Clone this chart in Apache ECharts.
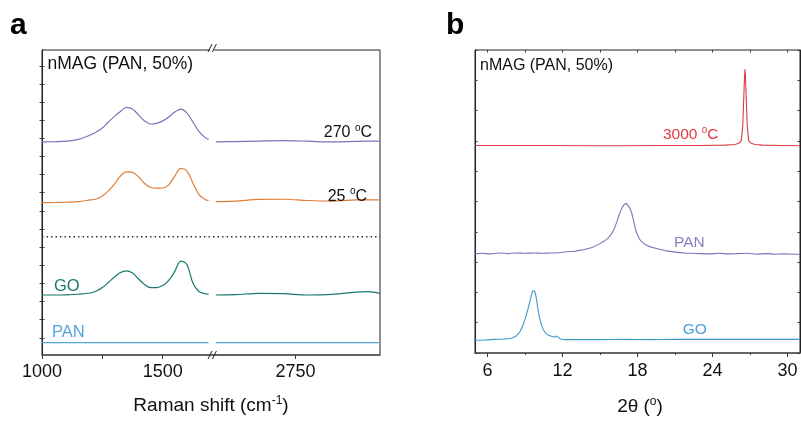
<!DOCTYPE html>
<html>
<head>
<meta charset="utf-8">
<script src="https://cdn.jsdelivr.net/npm/echarts@6/dist/echarts.min.js"></script>
<style>
  html, body { margin: 0; padding: 0; background: #ffffff; }
  #chart { width: 801px; height: 421px; }
</style>
</head>
<body>
<div id="chart"></div>
<script>
const FONT = '"Liberation Sans", Arial, Helvetica, sans-serif';

// ---------- Panel a: Raman spectra (cm^-1), axis broken between 1700 and 2400 ----------
const ramanShiftLow  = [1000,1050,1100,1150,1200,1225,1250,1275,1300,1325,1350,1375,1400,1425,1450,1475,1500,1525,1550,1575,1600,1625,1650,1675,1690];
const ramanShiftHigh = [2420,2500,2600,2700,2800,2900,3000,3050,3100];

const raman270Low  = [11.75,11.76,11.79,11.89,12.13,12.30,12.52,12.85,13.16,13.43,13.66,13.57,13.24,12.91,12.74,12.77,12.91,13.13,13.40,13.56,13.35,12.85,12.33,12.00,11.89];
const raman270High = [11.75,11.77,11.80,11.82,11.79,11.75,11.78,11.79,11.79];

const raman25Low  = [8.40,8.41,8.43,8.46,8.55,8.60,8.77,9.05,9.43,9.87,10.10,10.07,9.82,9.46,9.24,9.20,9.21,9.38,9.87,10.29,10.15,9.49,8.85,8.58,8.52];
const raman25High = [8.46,8.49,8.58,8.59,8.52,8.49,8.55,8.56,8.55];

const ramanGOLow  = [3.31,3.31,3.32,3.35,3.42,3.53,3.72,4.00,4.30,4.55,4.64,4.52,4.19,3.89,3.72,3.72,3.83,4.11,4.61,5.18,4.99,3.97,3.50,3.38,3.36];
const ramanGOHigh = [3.31,3.33,3.40,3.38,3.31,3.34,3.47,3.50,3.40];

const ramanPANLow  = ramanShiftLow.map(() => 0.68);
const ramanPANHigh = ramanShiftHigh.map(() => 0.68);

const separatorLevel = 6.52;          // dotted divider between samples and references
const ramanTickLabels = [1000, 1500, 2750];
const ramanTickMarks  = [1000, 1250, 1500, 2750];

// ---------- Panel b: XRD patterns (2θ, degrees) ----------
const xrdTheta3000 = [5,8,11,14,17,20,23,25,25.8,26.1,26.3,26.42,26.5,26.56,26.6,26.64,26.7,26.78,26.9,27.1,27.4,28,29.5,31];
const xrd3000      = [6.85,6.85,6.85,6.84,6.84,6.85,6.85,6.86,6.88,6.92,7.0,7.5,8.4,9.1,9.36,9.1,8.4,7.5,7.0,6.92,6.88,6.86,6.85,6.84];

const xrdThetaPAN = [5.0,5.6,6.2,7.0,7.6,8.3,9.0,9.7,10.4,11.0,11.7,12.3,13.0,13.4,14.0,14.4,15.0,15.5,15.8,16.1,16.3,16.5,16.7,16.9,17.05,17.2,17.4,17.55,17.7,17.9,18.2,18.5,18.8,19.2,19.6,20.3,21.0,21.7,22.4,23.0,23.8,24.5,25.3,26.0,26.8,27.5,28.3,29.0,29.8,30.4,31.0];
const xrdPAN      = [3.27,3.29,3.27,3.30,3.28,3.30,3.29,3.30,3.29,3.30,3.31,3.34,3.36,3.39,3.44,3.49,3.61,3.74,3.86,4.07,4.28,4.52,4.74,4.88,4.93,4.89,4.77,4.60,4.34,4.00,3.74,3.62,3.54,3.48,3.44,3.37,3.33,3.30,3.29,3.28,3.27,3.29,3.27,3.28,3.29,3.26,3.28,3.26,3.27,3.26,3.26];

const xrdThetaGO = [5.0,5.8,6.6,7.4,7.8,8.1,8.35,8.6,8.85,9.1,9.3,9.45,9.6,9.7,9.85,10.0,10.2,10.45,10.7,11.0,11.4,11.55,11.8,12.4,13.5,15.0,17.0,19.0,21.0,23.0,25.0,27.0,29.0,31.0];
const xrdGO      = [0.42,0.43,0.45,0.46,0.48,0.52,0.58,0.71,0.93,1.25,1.55,1.80,2.03,2.05,1.93,1.55,1.10,0.78,0.64,0.57,0.53,0.56,0.47,0.44,0.44,0.44,0.45,0.44,0.45,0.45,0.45,0.45,0.45,0.45];

const xrdMajorTicks = [6, 12, 18, 24, 30];
const xrdMinorTicks = [9, 15, 21, 27];

// ---------- colours ----------
const C_270 = '#7d72b8', C_25 = '#e27d36', C_GO_A = '#16786f', C_PAN_A = '#55a5d8';
const C_3000 = '#dd3a40', C_PAN_B = '#7d72b8', C_GO_B = '#3e97cc';

// broken-axis transform: two 700 cm^-1 windows placed side by side
const LOW_START = 1000, LOW_END = 1700, HIGH_START = 2400, HIGH_END = 3100;
const LOW_SPAN = LOW_END - LOW_START;
function brokenX(shift) {
  return shift <= LOW_END ? shift - LOW_START : shift - HIGH_START + LOW_SPAN;
}
function unbrokenLabel(v) {
  return v <= LOW_SPAN ? v + LOW_START : v - LOW_SPAN + HIGH_START;
}
const BREAK_AT = (brokenX(ramanShiftLow[ramanShiftLow.length - 1]) + brokenX(ramanShiftHigh[0])) / 2;

function ramanData(low, lowY, high, highY) {
  const d = low.map((s, i) => [brokenX(s), lowY[i]]);
  d.push([BREAK_AT, '-']);
  high.forEach((s, i) => d.push([brokenX(s), highY[i]]));
  return d;
}
const pairs = (xs, ys) => xs.map((x, i) => [x, ys[i]]);

const Y_A_MAX = 16.82;
const yTicksA = [];
for (let k = 0; k < 16; k++) yTicksA.push(0.95 + k);

const axisGrey = '#3a3a3a';

function ramanLine(name, data, color) {
  return { name, type: 'line', xAxisIndex: 0, yAxisIndex: 0, data, showSymbol: false,
    smooth: 0.35, connectNulls: false, lineStyle: { color, width: 1.2 }, silent: true };
}
function xrdLine(name, data, color, smooth) {
  return { name, type: 'line', xAxisIndex: 2, yAxisIndex: 2, data, showSymbol: false,
    smooth: smooth, lineStyle: { color, width: 1.1 }, silent: true };
}

const chart = echarts.init(document.getElementById('chart'), null, { renderer: 'canvas' });

const option = {
  animation: false,
  backgroundColor: '#ffffff',
  textStyle: { fontFamily: FONT },
  grid: [
    { left: 42, top: 50, width: 338, height: 305, show: true, borderColor: '#222', borderWidth: 1, backgroundColor: 'transparent' },
    { left: 475, top: 50, width: 325, height: 303, show: true, borderColor: '#222', borderWidth: 1, backgroundColor: 'transparent' }
  ],
  xAxis: [
    { // 0: Raman shift, bottom
      type: 'value', gridIndex: 0, min: 0, max: brokenX(HIGH_END), position: 'bottom',
      axisLine: { show: true, lineStyle: { color: '#555', width: 1.6 } },
      axisTick: { show: true, inside: false, length: 4, customValues: ramanTickMarks.map(brokenX), lineStyle: { color: axisGrey, width: 1 } },
      axisLabel: { show: true, customValues: ramanTickLabels.map(brokenX), formatter: v => String(unbrokenLabel(Math.round(v))), color: '#111', fontSize: 18, fontFamily: FONT, margin: 8 },
      splitLine: { show: false }
    },
    { // 1: Raman, top (frame only)
      type: 'value', gridIndex: 0, min: 0, max: brokenX(HIGH_END), position: 'top',
      axisLine: { show: false }, axisTick: { show: false }, axisLabel: { show: false }, splitLine: { show: false }
    },
    { // 2: 2θ, bottom, major ticks with labels
      type: 'value', gridIndex: 1, min: 5, max: 31, position: 'bottom',
      axisLine: { show: true, lineStyle: { color: '#555', width: 1.6 } },
      axisTick: { show: true, inside: false, length: 4, customValues: xrdMajorTicks, lineStyle: { color: axisGrey, width: 1 } },
      axisLabel: { show: true, customValues: xrdMajorTicks, color: '#111', fontSize: 18, fontFamily: FONT, margin: 9 },
      splitLine: { show: false }
    },
    { // 3: 2θ, bottom, minor ticks
      type: 'value', gridIndex: 1, min: 5, max: 31, position: 'bottom',
      axisLine: { show: false },
      axisTick: { show: true, inside: false, length: 2, customValues: xrdMinorTicks, lineStyle: { color: axisGrey, width: 1 } },
      axisLabel: { show: false }, splitLine: { show: false }
    },
    { // 4: 2θ, top, inward ticks
      type: 'value', gridIndex: 1, min: 5, max: 31, position: 'top',
      axisLine: { show: false },
      axisTick: { show: true, inside: true, length: 2.5, customValues: xrdMajorTicks.concat(xrdMinorTicks), lineStyle: { color: axisGrey, width: 1 } },
      axisLabel: { show: false }, splitLine: { show: false }
    }
  ],
  yAxis: [
    { type: 'value', gridIndex: 0, min: 0, max: Y_A_MAX, position: 'left',
      axisLine: { show: true, lineStyle: { color: '#222', width: 1 } },
      axisTick: { show: true, inside: true, length: 2.5, customValues: yTicksA, lineStyle: { color: axisGrey, width: 1 } },
      axisLabel: { show: false }, splitLine: { show: false } },
    { type: 'value', gridIndex: 0, min: 0, max: Y_A_MAX, position: 'right',
      axisLine: { show: true, lineStyle: { color: '#222', width: 1 } },
      axisTick: { show: true, inside: true, length: 2.5, customValues: yTicksA, lineStyle: { color: axisGrey, width: 1 } },
      axisLabel: { show: false }, splitLine: { show: false } },
    { type: 'value', gridIndex: 1, min: 0, max: 10, interval: 1, position: 'left',
      axisLine: { show: true, lineStyle: { color: '#222', width: 1 } },
      axisTick: { show: true, inside: true, length: 2.5, lineStyle: { color: axisGrey, width: 1 } },
      axisLabel: { show: false }, splitLine: { show: false } },
    { type: 'value', gridIndex: 1, min: 0, max: 10, interval: 1, position: 'right',
      axisLine: { show: true, lineStyle: { color: '#222', width: 1 } },
      axisTick: { show: true, inside: true, length: 2.5, lineStyle: { color: axisGrey, width: 1 } },
      axisLabel: { show: false }, splitLine: { show: false } }
  ],
  series: [
    ramanLine('270 °C', ramanData(ramanShiftLow, raman270Low, ramanShiftHigh, raman270High), C_270),
    ramanLine('25 °C',  ramanData(ramanShiftLow, raman25Low,  ramanShiftHigh, raman25High),  C_25),
    ramanLine('GO',     ramanData(ramanShiftLow, ramanGOLow,  ramanShiftHigh, ramanGOHigh),  C_GO_A),
    ramanLine('PAN',    ramanData(ramanShiftLow, ramanPANLow, ramanShiftHigh, ramanPANHigh), C_PAN_A),
    { name: 'divider', type: 'line', xAxisIndex: 0, yAxisIndex: 0, showSymbol: false, silent: true,
      data: [[0, separatorLevel], [brokenX(HIGH_END), separatorLevel]],
      lineStyle: { color: '#333', width: 1.3, type: [1.5, 3] } },
    xrdLine('3000 °C', pairs(xrdTheta3000, xrd3000), C_3000, false),
    xrdLine('PAN',     pairs(xrdThetaPAN, xrdPAN),   C_PAN_B, 0.2),
    xrdLine('GO',      pairs(xrdThetaGO, xrdGO),     C_GO_B, 0.25)
  ]
};
chart.setOption(option);

// ---------- annotations ----------
function label(x, y, text, size, color, opts) {
  opts = opts || {};
  return { type: 'text', x, y, silent: true, z: 100,
    style: Object.assign({ text, fill: color, font: (opts.bold ? 'bold ' : '') + size + 'px ' + FONT,
      align: opts.align || 'left', verticalAlign: 'middle', textAlign: opts.align || 'left', textVerticalAlign: 'middle' },
      opts.rich ? { rich: opts.rich } : {}) };
}
function supRich(size, color) {
  return { sup: { fontSize: Math.round(size * 0.62), fill: color, fontFamily: FONT, padding: [0, 0, Math.round(size * 0.55), 0] } };
}

function slashes(cx, cy) {
  const out = [];
  [-2.2, 2.2].forEach(dx => {
    out.push({ type: 'line', silent: true, z: 100,
      shape: { x1: cx + dx - 2, y1: cy + 4, x2: cx + dx + 2, y2: cy - 4 },
      style: { stroke: '#222', lineWidth: 1 } });
  });
  return out;
}

const topBreak = chart.convertToPixel({ xAxisIndex: 0, yAxisIndex: 0 }, [BREAK_AT, Y_A_MAX]);
const botBreak = chart.convertToPixel({ xAxisIndex: 0, yAxisIndex: 0 }, [BREAK_AT, 0]);

const graphics = [
  // white notches where the Raman frame is interrupted
  { type: 'rect', silent: true, z: 99, shape: { x: topBreak[0] - 2, y: topBreak[1] - 2, width: 4, height: 4 }, style: { fill: '#fff' } },
  ...slashes(topBreak[0], topBreak[1] - 2),
  ...slashes(botBreak[0], botBreak[1]),

  label(10, 25.5, 'a', 30, '#000', { bold: true }),
  label(446, 26, 'b', 30, '#000', { bold: true }),

  label(47.5, 64.6, 'nMAG (PAN, 50%)', 17.5, '#111'),
  label(480, 65.1, 'nMAG (PAN, 50%)', 16, '#111'),

  label(372, 132.4, '270 {sup|o}C', 16, '#111', { align: 'right', rich: supRich(16, '#111') }),
  label(367, 196.1, '25 {sup|o}C', 16, '#111', { align: 'right', rich: supRich(16, '#111') }),
  label(54, 286.1, 'GO', 16.5, C_GO_A),
  label(52, 332.2, 'PAN', 16.5, C_PAN_A),

  label(663, 134.7, '3000 {sup|o}C', 15.5, C_3000, { rich: supRich(15.5, C_3000) }),
  label(674, 243, 'PAN', 15.5, '#8a80c2'),
  label(682.7, 329.7, 'GO', 15.5, '#4b9fd2'),

  label(211, 405.4, 'Raman shift (cm{sup|-1})', 19, '#111', { align: 'center', rich: supRich(19, '#111') }),
  label(640, 406.7, '2θ ({sup|o})', 19, '#111', { align: 'center', rich: supRich(19, '#111') })
];
chart.setOption({ graphic: graphics });
</script>
</body>
</html>
